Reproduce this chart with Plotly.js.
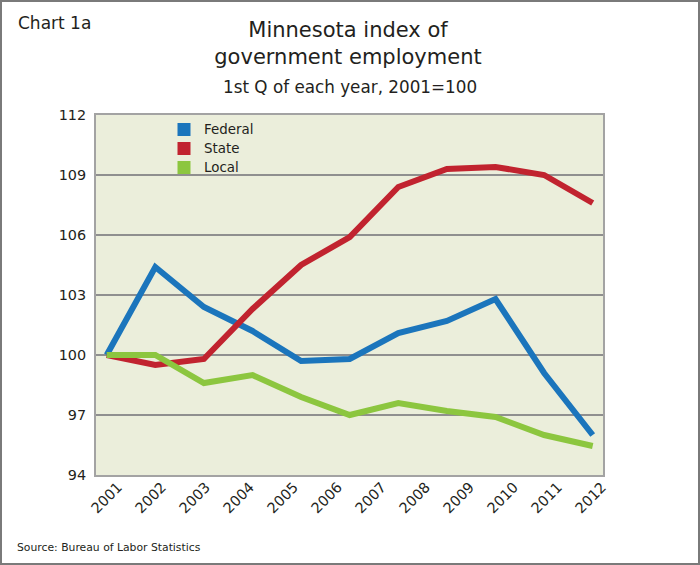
<!DOCTYPE html>
<html>
<head>
<meta charset="utf-8">
<script src="https://cdn.plot.ly/plotly-3.0.1.min.js"></script>
<style>
  html, body { margin: 0; padding: 0; background: #ffffff; }
  #wrap { position: relative; width: 700px; height: 565px; }
  #chart { position: absolute; left: 0; top: 0; width: 700px; height: 565px; }
  #frame { position: absolute; left: 0; top: 0; width: 700px; height: 565px;
           box-sizing: border-box; border: 2px solid #7a7a7a; pointer-events: none; }
</style>
</head>
<body>
<div id="wrap">
  <div id="chart"></div>
  <div id="frame"></div>
</div>
<script>
// ---- data ----
const yearLabels = ['2001','2002','2003','2004','2005','2006','2007','2008','2009','2010','2011','2012'];
const federal = [100.0, 104.4, 102.4, 101.2, 99.7, 99.8, 101.1, 101.7, 102.8, 99.1, 96.0];
const state   = [100.0, 99.5, 99.8, 102.3, 104.5, 105.9, 108.4, 109.3, 109.4, 109.0, 107.6];
const local   = [100.0, 100.0, 98.6, 99.0, 97.9, 97.0, 97.6, 97.2, 96.9, 96.0, 95.45];
const seriesNames = ['Federal', 'State', 'Local'];
const yTicks = [94, 97, 100, 103, 106, 109, 112];

// ---- styling ----
const colors = ['#1b75bc', '#c1232f', '#8cc63f'];
const FONT = '"DejaVu Sans", "Noto Sans", sans-serif';
const INK = '#231f20';
const W = 700, H = 565;
const M = {l: 96, r: 97, t: 115, b: 90};
const plotW = W - M.l - M.r, plotH = H - M.t - M.b;
const px2x = p => (p - M.l) / plotW;
const px2y = p => (H - M.b - p) / plotH;

const obsIndex = federal.map((_, i) => i);
const labelPos = yearLabels.map(Number);

const lineTraces = [federal, state, local].map((vals, k) => ({
  type: 'scatter', mode: 'lines', name: seriesNames[k],
  x: obsIndex, y: vals, xaxis: 'x', yaxis: 'y',
  line: {color: colors[k], width: 6},
  showlegend: false, hoverinfo: 'x+y+name'
}));

const legendTraces = seriesNames.map((n, k) => ({
  type: 'scatter', mode: 'markers',
  name: '<span style="font-size:13.4px">' + n + '</span>',
  x: [null], y: [null], xaxis: 'x', yaxis: 'y',
  marker: {symbol: 'square', size: 13, color: colors[k]},
  showlegend: true
}));

// invisible carrier for the year label axis
const labelTrace = {
  type: 'scatter', mode: 'none', x: labelPos, y: labelPos.map(() => null),
  xaxis: 'x2', yaxis: 'y', showlegend: false, hoverinfo: 'skip'
};

const dataSpacing = 48.6;   // px between observations
const firstObsPx = 106.7;
const labelSpacing = 44;    // px between year labels
const firstLabelPx = 118;

const layout = {
  width: W, height: H,
  margin: M,
  paper_bgcolor: '#ffffff',
  plot_bgcolor: '#ebeedb',
  font: {family: FONT, color: INK},
  title: {
    text: 'Minnesota index of<br>government employment',
    font: {family: FONT, size: 21, color: INK},
    x: 348 / W, xanchor: 'center', xref: 'container',
    y: 1 - 36.7 / H, yanchor: 'top', yref: 'container'
  },
  xaxis: {
    type: 'linear',
    range: [-(firstObsPx - M.l) / dataSpacing, (W - M.r - firstObsPx) / dataSpacing],
    showticklabels: false, showgrid: false, zeroline: false,
    showline: true, linecolor: '#a3a3a3', linewidth: 2, mirror: true, ticks: ''
  },
  xaxis2: {
    type: 'linear', overlaying: 'x', anchor: 'y', side: 'bottom',
    range: [2001 - (firstLabelPx - M.l) / labelSpacing, 2001 + (W - M.r - firstLabelPx) / labelSpacing],
    tickvals: labelPos, ticktext: yearLabels,
    tickangle: -45, ticks: '', showgrid: false, zeroline: false, showline: false,
    tickfont: {family: FONT, size: 14.4, color: INK}
  },
  yaxis: {
    range: [94, 112], tickvals: yTicks, ticktext: yTicks.map(String),
    showgrid: true, gridcolor: '#8f8f8f', gridwidth: 1.3,
    zeroline: false, showline: true, linecolor: '#a3a3a3', linewidth: 2, mirror: true,
    ticks: '', ticklabelstandoff: 5,
    tickfont: {family: FONT, size: 14.4, color: INK}
  },
  legend: {
    x: px2x(164), xanchor: 'left', y: px2y(115), yanchor: 'top',
    bgcolor: 'rgba(0,0,0,0)', borderwidth: 0,
    font: {family: FONT, size: 11, color: INK},
    itemwidth: 30, tracegroupgap: 0
  },
  annotations: [
    {text: 'Chart 1a', xref: 'paper', yref: 'paper', x: px2x(16), y: px2y(23),
     xanchor: 'left', yanchor: 'middle', showarrow: false,
     font: {family: FONT, size: 17, color: INK}},
    {text: '1st Q of each year, 2001=100', xref: 'paper', yref: 'paper', x: px2x(350), y: px2y(86.5),
     xanchor: 'center', yanchor: 'middle', showarrow: false,
     font: {family: FONT, size: 16.8, color: INK}},
    {text: 'Source: Bureau of Labor Statistics', xref: 'paper', yref: 'paper', x: px2x(15), y: px2y(547),
     xanchor: 'left', yanchor: 'middle', showarrow: false,
     font: {family: FONT, size: 10.8, color: INK}}
  ]
};

Plotly.newPlot('chart', lineTraces.concat(legendTraces, [labelTrace]), layout,
  {displayModeBar: false, staticPlot: true});
</script>
</body>
</html>
